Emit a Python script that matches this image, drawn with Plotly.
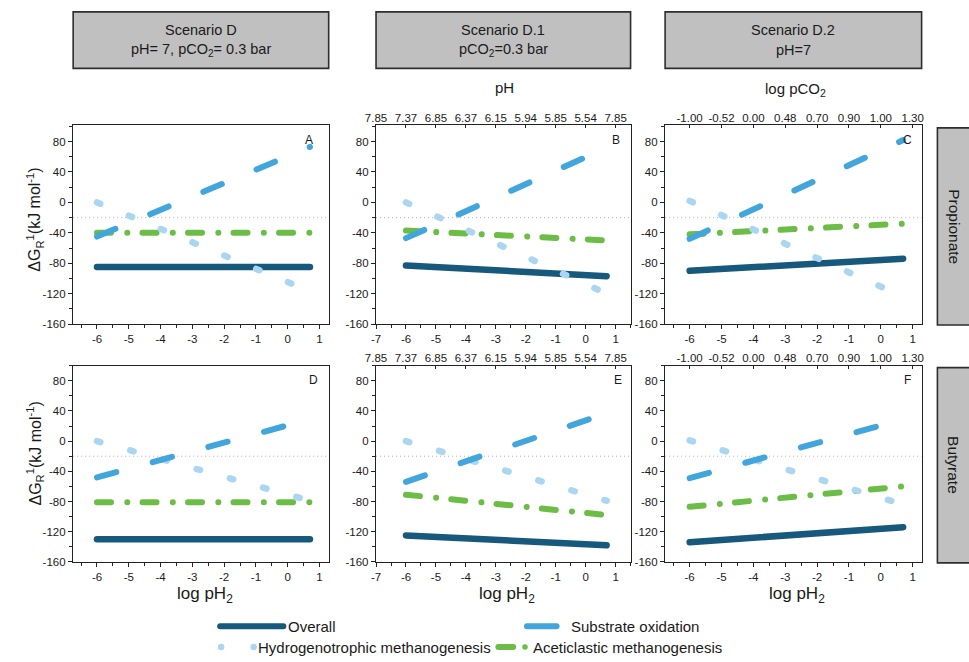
import plotly.graph_objects as go

# Gibbs free energy of reaction vs log pH2, panels A-F (rows: propionate, butyrate;
# columns: scenario D, D.1, D.2). Each series is a straight line between its
# values at the two ends of the log pH2 interval.
log_ph2 = [-6.0, 0.7]
panel_letters = ["A", "B", "C", "D", "E", "F"]

overall = [[-85, -85], [-83, -97], [-90, -74], [-130, -130], [-125, -138], [-134, -114]]
substrate_oxidation = [[-45, 73], [-47, 72], [-48, 82], [-48, 29], [-54, 37], [-49, 29]]
hydrogenotrophic = [[0, -117], [0, -120], [2, -124], [0, -79], [0, -79], [1, -84]]
aceticlastic = [[-40, -40], [-37, -50], [-42, -28], [-81, -81], [-71, -98], [-87, -60]]

threshold = -20

dg_ticks = [-160, -120, -80, -40, 0, 40, 80]
ph_tick_pos = [-7, -6, -5, -4, -3, -2, -1, 0, 1]
ph_tick_text = ["7.85", "7.37", "6.85", "6.37", "6.15", "5.94", "5.85", "5.54", "7.85"]
pco2_tick_pos = [-6, -5, -4, -3, -2, -1, 0, 1]
pco2_tick_text = ["-1.00", "-0.52", "0.00", "0.48", "0.70", "0.90", "1.00", "1.30"]

headers = [("Scenario D", "pH= 7, pCO<sub>2</sub>= 0.3 bar"),
           ("Scenario D.1", "pCO<sub>2</sub>=0.3 bar"),
           ("Scenario D.2", "pH=7")]
strips = ["Propionate", "Butyrate"]

W, H = 969, 662
FONT = "Liberation Sans, Arial, sans-serif"
INK = "#1a1a1a"

C_OVERALL = "#17587d"
C_SUBSTRATE = "#42a6dd"
C_HYDRO = "#aad6f1"
C_ACET = "#6cbd46"

# dash patterns (pixels along the path; caps are rounded)
DASH_SUB = "20px,37.7px"
DASH_HYD = "3.5px,31px"
DASH_ACE = "14px,16.3px,0.01px,15.2px"


def fx(px):
    return px / W


def fy(py):
    return 1 - py / H


def label(text, x, y, size, **kw):
    d = dict(text=text, xref="paper", yref="paper", x=fx(x), y=fy(y),
             xanchor="center", yanchor="middle", showarrow=False,
             font=dict(size=size, color=INK, family=FONT))
    d.update(kw)
    return d


def num(v):
    return str(v)  # plain hyphen-minus for negative labels


col_px = [(63, 322), (370, 628), (663, 923)]
row_px = [(126, 327), (369, 567)]
col_xrange = [[-6.75, 1.29], [-7.0, 1.5], [-6.77, 1.28]]
row_yrange = [[-160, 102], [-160, 100]]

fig = go.Figure()
layout = dict(
    width=W, height=H, margin=dict(l=0, r=0, t=0, b=0),
    paper_bgcolor="white", plot_bgcolor="rgba(0,0,0,0)", showlegend=False,
    font=dict(family=FONT, color=INK, size=12),
)

shapes = []
annotations = []

for i in range(6):
    r, c = divmod(i, 3)
    n = i + 1
    xa = "x" if n == 1 else f"x{n}"
    ya = "y" if n == 1 else f"y{n}"
    xkey = "xaxis" if n == 1 else f"xaxis{n}"
    ykey = "yaxis" if n == 1 else f"yaxis{n}"
    xt = list(range(-7 if c == 1 else -6, 2))
    layout[xkey] = dict(
        domain=[fx(col_px[c][0]), fx(col_px[c][1])], anchor=ya,
        range=col_xrange[c], tickmode="array",
        tickvals=xt, ticktext=[num(v) for v in xt],
        ticks="outside", ticklen=4, tickwidth=1.2, tickcolor="#222",
        minor=dict(dtick=0.5, tick0=0, ticks="outside", ticklen=2.5, tickcolor="#222"),
        showline=True, linecolor="#222", linewidth=1.4, mirror=True,
        showgrid=False, zeroline=False,
        tickfont=dict(size=11.5, color=INK, family=FONT),
    )
    layout[ykey] = dict(
        domain=[fy(row_px[r][1]), fy(row_px[r][0])], anchor=xa,
        range=row_yrange[r], tickmode="array",
        tickvals=dg_ticks, ticktext=[num(v) for v in dg_ticks],
        ticks="outside", ticklen=4, tickwidth=1.2, tickcolor="#222",
        minor=dict(dtick=20, tick0=0, ticks="outside", ticklen=2.5, tickcolor="#222"),
        showline=True, linecolor="#222", linewidth=1.4, mirror=True,
        showgrid=False, zeroline=False,
        tickfont=dict(size=11.5, color=INK, family=FONT),
    )

    series = [
        (overall[i], C_OVERALL, 6.5, "solid"),
        (aceticlastic[i], C_ACET, 6, DASH_ACE),
        (hydrogenotrophic[i], C_HYDRO, 6.5, DASH_HYD),
        (substrate_oxidation[i], C_SUBSTRATE, 6, DASH_SUB),
    ]
    for vals, color, width, dash in series:
        fig.add_trace(go.Scatter(
            x=log_ph2, y=vals, mode="lines", xaxis=xa, yaxis=ya,
            line=dict(color=color, width=width, dash=dash),
            hoverinfo="skip", cliponaxis=True,
        ))

    # -20 kJ/mol threshold
    shapes.append(dict(
        type="line", xref=f"{xa} domain", yref=ya, x0=0, x1=1,
        y0=threshold, y1=threshold, layer="below",
        line=dict(color="#b4b4b4", width=1, dash="1px,3px"),
    ))

    letter_x = [0.923, 0.942, 0.946, 0.942, 0.95, 0.946][i]
    annotations.append(dict(
        text=panel_letters[i], xref=f"{xa} domain", yref=f"{ya} domain",
        x=letter_x, y=0.925, xanchor="center", yanchor="middle", showarrow=False,
        font=dict(size=12, color=INK, family=FONT),
    ))

# secondary (top) axes with pH and log pCO2 scales
top_axes = [(7, 2, ph_tick_pos, ph_tick_text), (8, 3, pco2_tick_pos, pco2_tick_text),
            (9, 5, ph_tick_pos, ph_tick_text), (10, 6, pco2_tick_pos, pco2_tick_text)]
for n, base, pos, txt in top_axes:
    c = (base - 1) % 3
    layout[f"xaxis{n}"] = dict(
        overlaying=f"x{base}", anchor=f"y{base}", side="top",
        range=col_xrange[c], tickmode="array", tickvals=pos, ticktext=txt,
        ticks="inside", ticklen=3, tickwidth=1.2, tickcolor="#222",
        showline=False, showgrid=False, zeroline=False,
        tickfont=dict(size=11.5, color=INK, family=FONT),
    )
    fig.add_trace(go.Scatter(x=[], y=[], xaxis=f"x{n}", yaxis=f"y{base}",
                             mode="lines", hoverinfo="skip"))

# header boxes
for (x0, x1), (title, sub) in zip(col_px, headers):
    shapes.append(dict(type="rect", xref="paper", yref="paper",
                       x0=fx(x0), x1=fx(x1), y0=fy(69), y1=fy(12),
                       fillcolor="#c0c0c0", line=dict(color="#2e2e2e", width=1.6)))
    xc = (x0 + x1) / 2
    annotations.append(label(title, xc, 30, 14.5))
    annotations.append(label(sub, xc, 50, 14.5))

# row strips
for (y0, y1), name in zip([(129, 328), (371, 568)], strips):
    shapes.append(dict(type="rect", xref="paper", yref="paper",
                       x0=fx(939), x1=fx(985), y0=fy(y1), y1=fy(y0),
                       fillcolor="#c0c0c0", line=dict(color="#2e2e2e", width=1.6)))
    annotations.append(label(name, 956, (y0 + y1) / 2, 15.5, textangle=90))

# axis titles
annotations.append(label("pH", 500, 88, 15))
annotations.append(label("log pCO<sub>2</sub>", 795, 90, 15))
for (x0, x1) in col_px:
    annotations.append(label("log pH<sub>2</sub>", (x0 + x1) / 2 + 4, 600, 17))
for yc in (222, 458):
    annotations.append(label("ΔG<sub>R</sub><sup>1</sup>(kJ mol<sup>-1</sup>)",
                             24, yc, 16, textangle=-90))

# legend drawn on a full-figure overlay axis in pixel units
layout["xaxis11"] = dict(domain=[0, 1], range=[0, W], visible=False, fixedrange=True,
                         anchor="y11")
layout["yaxis11"] = dict(domain=[0, 1], range=[H, 0], visible=False, fixedrange=True,
                         anchor="x11")
legend_items = [
    ("Overall", C_OVERALL, [212, 276], 632, 6, 279),
    ("Substrate oxidation", C_SUBSTRATE, [523, 553], 632, 6, 566),
    ("Aceticlastic methanogenesis", C_ACET, [494, 509], 653, 6, 527),
]
for name, color, xs, yl, width, tx in legend_items:
    fig.add_trace(go.Scatter(x=xs, y=[yl, yl], xaxis="x11", yaxis="y11", mode="lines",
                             line=dict(color=color, width=width),
                             hoverinfo="skip"))
    annotations.append(label(name, tx, yl, 15, xanchor="left"))
fig.add_trace(go.Scatter(x=[521], y=[653], xaxis="x11", yaxis="y11", mode="markers",
                         marker=dict(color=C_ACET, size=5.5, line=dict(width=0)),
                         hoverinfo="skip"))
fig.add_trace(go.Scatter(x=[213, 246], y=[653, 653], xaxis="x11", yaxis="y11",
                         mode="markers", marker=dict(color=C_HYDRO, size=6.5, line=dict(width=0)),
                         hoverinfo="skip"))
annotations.append(label("Hydrogenotrophic methanogenesis", 248, 653, 15, xanchor="left"))

layout["shapes"] = shapes
layout["annotations"] = annotations
fig.update_layout(**layout)

round_caps = (
    "var s=document.createElement('style');"
    "s.textContent='.js-line{stroke-linecap:round;stroke-linejoin:round;}';"
    "document.head.appendChild(s);"
)
fig.write_html("out.html", post_script=round_caps)
